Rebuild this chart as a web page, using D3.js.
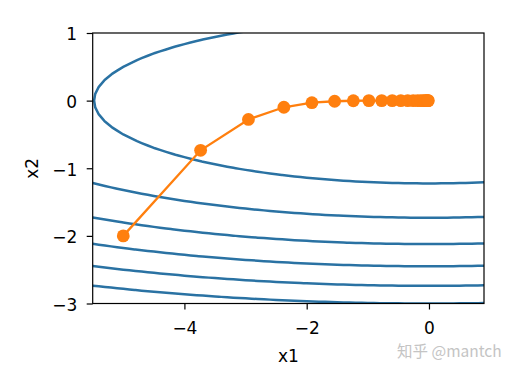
<!DOCTYPE html>
<html>
<head>
<meta charset="utf-8">
<script src="https://cdn.jsdelivr.net/npm/d3@7"></script>
<style>
	body { margin: 0; background: #fff; }
	svg { display: block; font-family: "DejaVu Sans", sans-serif; }
</style>
</head>
<body>
<div class="vis"></div>
<script>
// path of the optimiser
var x1Path = [-5, -3.735, -2.953, -2.373, -1.915, -1.543, -1.237, -0.983, -0.773, -0.601,
	-0.461, -0.348, -0.258, -0.188, -0.134, -0.094, -0.064, -0.043, -0.028, -0.017, -0.011];
var x2Path = [-2, -0.735, -0.278, -0.098, -0.031, -0.009, -0.002, 0, 0, 0,
	0, 0, 0, 0, 0, 0, 0, 0, 0, 0, 0];

// contour levels of f(x1, x2) = 0.1 * x1^2 + 2 * x2^2
var levels = [3, 6, 9, 12, 15, 18];
var xDomain = [-5.5, 0.9];
var yDomain = [-3, 1];
var xTicks = [-4, -2, 0];
var yTicks = [1, 0, -1, -2, -3];

var width = 514, height = 373;
var margin = {top: 33, right: 30, bottom: 69.5, left: 92.7};
var innerW = width - margin.left - margin.right,
	innerH = height - margin.top - margin.bottom;
var fontSize = '17px';

var svg = d3.select('.vis').append('svg')
	.attr('width', width)
	.attr('height', height);

var scaleX = d3.scaleLinear().domain(xDomain).range([margin.left, margin.left + innerW]);
var scaleY = d3.scaleLinear().domain(yDomain).range([margin.top + innerH, margin.top]);

svg.append('clipPath').attr('id', 'plot')
	.append('rect')
	.attr('x', margin.left).attr('y', margin.top)
	.attr('width', innerW).attr('height', innerH);

// grid for the contours, one cell wider than the axes on every side
var step = 0.1;
var gx0 = xDomain[0] - step, gy0 = yDomain[0] - step;
var nx = Math.round((xDomain[1] - xDomain[0]) / step) + 3;
var ny = Math.round((yDomain[1] - yDomain[0]) / step) + 3;
var values = new Array(nx * ny);
for (var j = 0; j < ny; j++) {
	for (var i = 0; i < nx; i++) {
		var a = gx0 + i * step, b = gy0 + j * step;
		values[j * nx + i] = 0.1 * a * a + 2 * b * b;
	}
}

var contours = d3.contours().size([nx, ny]).thresholds(levels)(values);

// grid coords -> pixels (value i sits at i + 0.5)
var gridToPx = d3.geoTransform({
	point: function(px, py) {
		this.stream.point(scaleX(gx0 + (px - 0.5) * step), scaleY(gy0 + (py - 0.5) * step));
	}
});

svg.append('g')
	.attr('clip-path', 'url(#plot)')
	.selectAll('path')
	.data(contours)
	.enter().append('path')
	.attr('d', d3.geoPath(gridToPx))
	.attr('fill', 'none')
	.attr('stroke', '#2a72a3')
	.attr('stroke-width', 2.5);

// optimiser trajectory
var pts = x1Path.map(function(d, i) { return [d, x2Path[i]]; });
var line = d3.line()
	.x(function(d) { return scaleX(d[0]); })
	.y(function(d) { return scaleY(d[1]); });

svg.append('path')
	.datum(pts)
	.attr('d', line)
	.attr('fill', 'none')
	.attr('stroke', '#ff7f0e')
	.attr('stroke-width', 2.3);

svg.append('g').selectAll('circle')
	.data(pts)
	.enter().append('circle')
	.attr('cx', function(d) { return scaleX(d[0]); })
	.attr('cy', function(d) { return scaleY(d[1]); })
	.attr('r', 6.4)
	.attr('fill', '#ff7f0e');

// axes
function fmt(d) { return d < 0 ? '\u2212' + Math.abs(d) : String(d); }

var xAxis = svg.append('g')
	.attr('transform', 'translate(0,' + (margin.top + innerH) + ')')
	.call(d3.axisBottom(scaleX).tickValues(xTicks).tickSize(6).tickFormat(fmt));
xAxis.selectAll('text').attr('y', 30).attr('dy', 0);

var yAxis = svg.append('g')
	.attr('transform', 'translate(' + margin.left + ',0)')
	.call(d3.axisLeft(scaleY).tickValues(yTicks).tickSize(6).tickFormat(fmt));
yAxis.selectAll('text').attr('x', -15.5).attr('dy', '0.4em');

[xAxis, yAxis].forEach(function(ax) {
	ax.select('.domain').remove();
	ax.selectAll('line').attr('stroke', '#000').attr('stroke-width', 1.2);
	ax.selectAll('text')
		.attr('fill', '#000')
		.style('font-size', fontSize)
		.style('font-family', '"DejaVu Sans", sans-serif');
});

// frame
svg.append('rect')
	.attr('x', margin.left).attr('y', margin.top)
	.attr('width', innerW).attr('height', innerH)
	.attr('fill', 'none')
	.attr('stroke', '#000')
	.attr('stroke-width', 1.2);

svg.append('text')
	.attr('x', scaleX(-2.3)).attr('y', 362)
	.attr('text-anchor', 'middle')
	.style('font-size', fontSize)
	.text('x1');

svg.append('text')
	.attr('transform', 'translate(38,' + scaleY(-1) + ') rotate(-90)')
	.attr('text-anchor', 'middle')
	.style('font-size', fontSize)
	.text('x2');

// watermark
svg.append('text')
	.attr('x', 397).attr('y', 357)
	.attr('fill', '#c4c4c4')
	.style('font-family', '"Noto Sans CJK SC", sans-serif')
	.style('font-size', '15.5px')
	.text('知乎 @mantch');
</script>
</body>
</html>
